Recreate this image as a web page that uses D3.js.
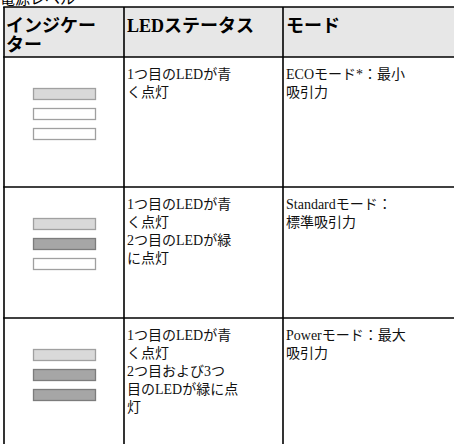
<!DOCTYPE html>
<html><head><meta charset="utf-8">
<script src="https://cdn.jsdelivr.net/npm/d3@7"></script>
<style>
html,body{margin:0;padding:0;background:#fff;overflow:hidden;}
svg{display:block;}
</style></head>
<body>
<div id="chart"></div>
<script>
// ---- data ----
const title = "電源レベル";
const headers = [["インジケー","ター"],["LEDステータス"],["モード"]];
// LED states per row: 0 = off, 1 = blue (light), 2 = green (dark)
const ledStates = [[1,0,0],[1,2,0],[1,2,2]];
const statusLines = [
  ["1つ目のLEDが青","く点灯"],
  ["1つ目のLEDが青","く点灯","2つ目のLEDが緑","に点灯"],
  ["1つ目のLEDが青","く点灯","2つ目および3つ","目のLEDが緑に点","灯"]
];
const modeLines = [
  ["ECOモード*：最小","吸引力"],
  ["Standardモード：","標準吸引力"],
  ["Powerモード：最大","吸引力"]
];

// ---- layout ----
const W = 454, H = 444;
const colEdges = [4, 124, 283, W + 2];
const rowEdges = [7, 57, 187, 318, 502];
const bodyFont = "'Liberation Serif','Noto Sans CJK JP',serif";
const headFont = "'Liberation Serif','Noto Sans CJK JP',sans-serif";

const svg = d3.select("#chart").append("svg").attr("width", W).attr("height", H);

// header background
svg.append("rect").attr("x", colEdges[0]).attr("y", rowEdges[0])
  .attr("width", W - colEdges[0]).attr("height", rowEdges[1] - rowEdges[0])
  .attr("fill", "#e7e7e7");

// title (cut at top)
svg.append("text").attr("x", 0).attr("y", 4).text(title)
  .attr("font-family", bodyFont).attr("font-size", 15).attr("fill", "#000");

// header text
const headerG = svg.append("g");
headers.forEach((lines, c) => {
  lines.forEach((t, i) => {
    headerG.append("text")
      .attr("x", colEdges[c] + (c === 0 ? 2 : 3))
      .attr("y", rowEdges[0] + 25 + i * 19)
      .attr("font-family", headFont).attr("font-weight", "bold")
      .attr("font-size", 18).attr("fill", "#000").text(t);
  });
});

// LED indicators
const ledY = d3.scaleLinear().domain([0, 1]).range([31, 51]);
const ledFill = d3.scaleOrdinal().domain([0,1,2]).range(["#ffffff","#d9d9d9","#a6a6a6"]);
const ledStroke = d3.scaleOrdinal().domain([0,1,2]).range(["#a0a0a0","#a0a0a0","#7c7c7c"]);
ledStates.forEach((states, r) => {
  svg.append("g").selectAll("rect").data(states).join("rect")
    .attr("x", 33.5).attr("y", (d, i) => rowEdges[r + 1] + ledY(i) + 0.5)
    .attr("width", 62).attr("height", 11)
    .attr("fill", d => ledFill(d)).attr("stroke", d => ledStroke(d)).attr("stroke-width", 1.3);
});

// body text
function drawLines(lines, r, c) {
  svg.append("g").selectAll("text").data(lines).join("text")
    .attr("x", colEdges[c] + 3)
    .attr("y", (d, i) => rowEdges[r + 1] + 22 + i * 18)
    .attr("font-family", bodyFont).attr("font-size", 14).attr("fill", "#111")
    .text(d => d);
}
statusLines.forEach((l, r) => drawLines(l, r, 1));
modeLines.forEach((l, r) => drawLines(l, r, 2));

// grid lines
const grid = svg.append("g").attr("stroke", "#000").attr("stroke-width", 1.6);
rowEdges.slice(0, 4).forEach(y => {
  grid.append("line").attr("x1", colEdges[0] - 0.8).attr("x2", W).attr("y1", y).attr("y2", y);
});
colEdges.slice(0, 3).forEach(x => {
  grid.append("line").attr("x1", x).attr("x2", x).attr("y1", rowEdges[0]).attr("y2", H);
});
</script>
</body></html>
